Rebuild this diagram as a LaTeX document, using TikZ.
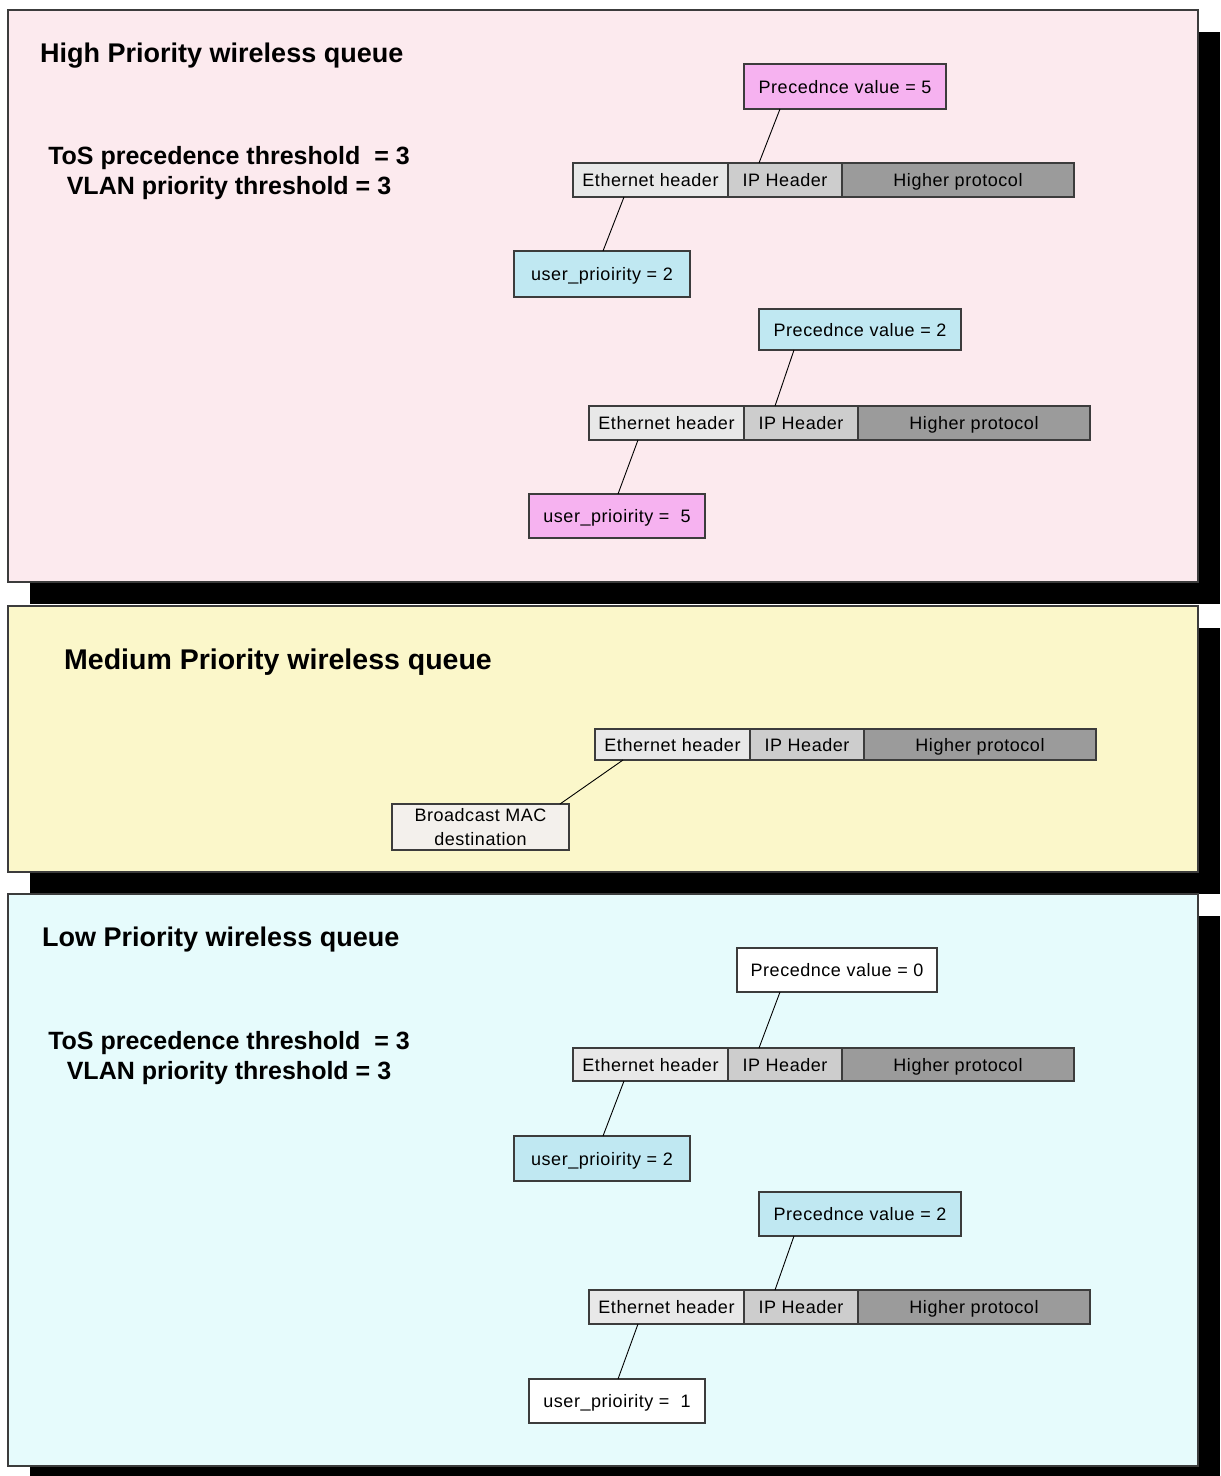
\documentclass[tikz,border=0pt]{standalone}
\usepackage{fontspec}
\setmainfont{Liberation Sans}
\newfontfamily\boxfont{Liberation Sans}[LetterSpace=3]
\definecolor{pinkbg}{RGB}{252,234,238}
\definecolor{yellowbg}{RGB}{251,247,202}
\definecolor{cyanbg}{RGB}{230,251,252}
\definecolor{pinkbox}{RGB}{246,178,240}
\definecolor{bluebox}{RGB}{192,232,242}
\definecolor{bcastbox}{RGB}{243,240,236}
\definecolor{ethfill}{RGB}{232,232,232}
\definecolor{ipfill}{RGB}{205,205,205}
\definecolor{hpfill}{RGB}{155,155,155}
\definecolor{edge}{RGB}{60,60,60}
\tikzset{
  panel/.style={draw=edge, line width=1.3pt},
  shadowbox/.style={fill=black, draw=none},
  fieldbox/.style={draw=edge, line width=1.3pt, inner sep=0pt, outer sep=0pt, anchor=north west,
     text height=15pt, text depth=2pt,
     font=\boxfont\fontsize{18}{22}\selectfont},
  eth/.style={fieldbox, fill=ethfill, minimum width=155pt},
  iph/.style={fieldbox, fill=ipfill, minimum width=114pt},
  hp/.style={fieldbox, fill=hpfill, minimum width=232pt},
  tagbox/.style={fieldbox},
  title/.style={anchor=base west, inner sep=0pt, font=\bfseries\fontsize{27}{32}\selectfont},
  thresh/.style={align=center, inner sep=0pt, font=\bfseries\fontsize{25}{30}\selectfont},
  conn/.style={draw=black, line width=0.9pt}
}
\newcommand\mypkt[4]{%
  \node[eth, minimum height=#4] (#1e) at (#2,#3) {Ethernet header};
  \node[iph, minimum height=#4] (#1i) at (#1e.north east) {IP Header};
  \node[hp, minimum height=#4] (#1h) at (#1i.north east) {Higher protocol};
}
\begin{document}
\begin{tikzpicture}[x=1pt,y=-1pt]
\useasboundingbox (0,0) rectangle (1221,1476);
% shadows
\fill[shadowbox] (30,32) rectangle (1220,604);
\fill[shadowbox] (30,628) rectangle (1220,894);
\fill[shadowbox] (30,916) rectangle (1220,1476);
% panels
\draw[panel, fill=pinkbg] (8,10) rectangle (1198,582);
\draw[panel, fill=yellowbg] (8,606) rectangle (1198,872);
\draw[panel, fill=cyanbg] (8,894) rectangle (1198,1466);

% ---------- High priority ----------
\node[title] (t1) at (40,62) {High Priority wireless queue};
\node[thresh] (th1) at (229,173) {ToS precedence threshold \ = 3\\VLAN priority threshold = 3};

\mypkt{a}{573}{163}{34}
\node[tagbox, fill=pinkbox, minimum width=202pt, minimum height=45pt] (pa) at (744,64) {Precednce value = 5};
\node[tagbox, fill=bluebox, minimum width=176pt, minimum height=46pt] (ua) at (514,251) {user\_prioirity = 2};
\draw[conn] ([xshift=36pt]pa.south west) -- ([xshift=31pt]ai.north west);
\draw[conn] ([xshift=51pt]ae.south west) -- ([xshift=89pt]ua.north west);

\mypkt{b}{589}{406}{34}
\node[tagbox, fill=bluebox, minimum width=202pt, minimum height=41pt] (pb) at (759,309) {Precednce value = 2};
\node[tagbox, fill=pinkbox, minimum width=176pt, minimum height=44pt] (ub) at (529,494) {user\_prioirity = \ 5};
\draw[conn] ([xshift=35pt]pb.south west) -- ([xshift=31pt]bi.north west);
\draw[conn] ([xshift=49pt]be.south west) -- ([xshift=89pt]ub.north west);

% ---------- Medium priority ----------
\node[title, font=\bfseries\fontsize{28.5}{32}\selectfont] (t2) at (64,669) {Medium Priority wireless queue};
\mypkt{c}{595}{729}{31}
\node[tagbox, fill=bcastbox, minimum width=177pt, minimum height=46pt, align=center,
      text height=, text depth=,
      font=\boxfont\fontsize{18}{24}\selectfont] (bc) at (392,804) {Broadcast MAC\\destination};
\draw[conn] ([xshift=28pt]ce.south west) -- ([xshift=-9pt]bc.north east);

% ---------- Low priority ----------
\node[title] (t3) at (42,946) {Low Priority wireless queue};
\node[thresh] (th3) at (229,1058) {ToS precedence threshold \ = 3\\VLAN priority threshold = 3};

\mypkt{d}{573}{1048}{33}
\node[tagbox, fill=white, minimum width=200pt, minimum height=44pt] (pd) at (737,948) {Precednce value = 0};
\node[tagbox, fill=bluebox, minimum width=176pt, minimum height=45pt] (ud) at (514,1136) {user\_prioirity = 2};
\draw[conn] ([xshift=43pt]pd.south west) -- ([xshift=31pt]di.north west);
\draw[conn] ([xshift=51pt]de.south west) -- ([xshift=89pt]ud.north west);

\mypkt{f}{589}{1290}{34}
\node[tagbox, fill=bluebox, minimum width=202pt, minimum height=44pt] (pf) at (759,1192) {Precednce value = 2};
\node[tagbox, fill=white, minimum width=176pt, minimum height=44pt] (uf) at (529,1379) {user\_prioirity = \ 1};
\draw[conn] ([xshift=35pt]pf.south west) -- ([xshift=31pt]fi.north west);
\draw[conn] ([xshift=49pt]fe.south west) -- ([xshift=89pt]uf.north west);
\end{tikzpicture}
\end{document}
